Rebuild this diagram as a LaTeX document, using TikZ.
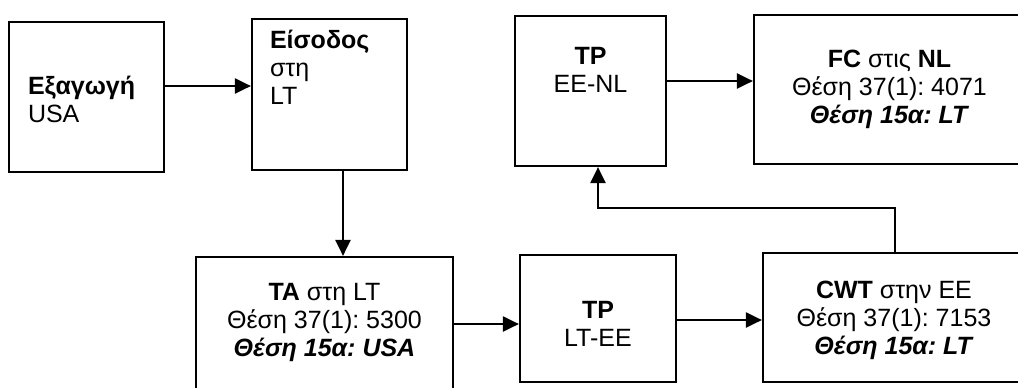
\documentclass[tikz,border=0pt]{standalone}
\usepackage{fontspec}
\setmainfont{Liberation Sans}
\usetikzlibrary{arrows.meta}
\frenchspacing
\newcommand{\boxlines}[2]{\begin{tabular}[t]{@{}#1@{}}#2\end{tabular}}

\begin{document}
\begin{tikzpicture}[x=0.5pt,y=-0.5pt,
  box/.style={draw, line width=1.1pt, inner sep=0pt, text height=0pt,
    font=\fontsize{12.5}{14}\selectfont},
  arr/.style={-{Triangle[length=8pt,width=7.5pt]}, line width=1.1pt}]
  \fill[white] (0,0) rectangle (1018,387);
  \useasboundingbox (0,0) rectangle (1018,387);
  \clip (0,0) rectangle (1018,387);
  % upper row
  \node[box, minimum width=77.5pt, minimum height=75pt, text width=58.5pt, align=left, text depth=3pt]
    (exp) at (86.5,97) {\boxlines{l}{\textbf{Εξαγωγή}\\USA}};
  \node[box, minimum width=77.5pt, minimum height=75.5pt, text width=59.5pt, align=left, text depth=46.5pt]
    (entry) at (329.5,94.5) {\boxlines{l}{\textbf{Είσοδος}\\στη\\LT}};
  \node[box, minimum width=75.5pt, minimum height=75pt, text depth=27pt]
    (tpnl) at (590.5,91) {\boxlines{c}{\textbf{TP}\\EE-NL}};
  \node[box, minimum width=135.5pt, minimum height=74.5pt, text depth=22.5pt]
    (fc) at (889.5,89.5) {\boxlines{c}{\textbf{FC} στις \textbf{NL}\\Θέση 37(1): 4071\\\textbf{\textit{Θέση 15α: LT}}}};
  % lower row
  \node[box, minimum width=128.5pt, minimum height=67.5pt, text depth=24.5pt]
    (ta) at (324.5,324.5) {\boxlines{c}{\textbf{TA} στη LT\\Θέση 37(1): 5300\\\textbf{\textit{Θέση 15α: USA}}}};
  \node[box, minimum width=78pt, minimum height=63.5pt, text depth=0pt]
    (tplt) at (598,318.5) {\boxlines{c}{\textbf{TP}\\LT-EE}};
  \node[box, minimum width=131pt, minimum height=64.5pt, text depth=19.5pt]
    (cwt) at (894,317.5) {\boxlines{c}{\textbf{CWT} στην EE\\Θέση 37(1): 7153\\\textbf{\textit{Θέση 15α: LT}}}};
  % connectors
  \draw[arr] (exp.east |- 0,86) -- (entry.west |- 0,86);
  \draw[arr] (entry.south -| 343,0) -- (ta.north -| 343,0);
  \draw[arr] (ta.east |- 0,324) -- (tplt.west |- 0,324);
  \draw[arr] (tplt.east |- 0,320) -- (cwt.west |- 0,320);
  \draw[arr] (tpnl.east |- 0,81) -- (fc.west |- 0,81);
  \coordinate (back) at (598,208);
  \draw[arr] (cwt.north -| 895,0) |- (back) -- (tpnl.south -| back);
\end{tikzpicture}
\end{document}
